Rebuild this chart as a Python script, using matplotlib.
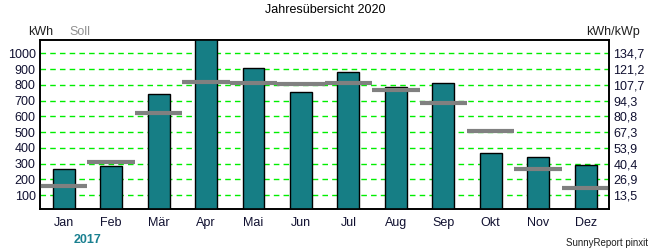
import matplotlib.pyplot as plt

plt.rcParams['font.family'] = ['Liberation Sans', 'DejaVu Sans']

# Monatswerte
monate = ['Jan', 'Feb', 'Mär', 'Apr', 'Mai', 'Jun', 'Jul', 'Aug', 'Sep', 'Okt', 'Nov', 'Dez']
ertrag = [265, 284, 740, 1100, 905, 753, 880, 788, 810, 366, 341, 292]
soll = [157, 309, 620, 816, 810, 803, 810, 765, 683, 506, 265, 144]
ticks_kwh = [100, 200, 300, 400, 500, 600, 700, 800, 900, 1000]
ticks_kwp = ['13,5', '26,9', '40,4', '53,9', '67,3', '80,8', '94,3', '107,7', '121,2', '134,7']

fig = plt.figure(figsize=(6.5, 2.5), dpi=100)
ax = fig.add_axes([0.0615, 0.164, 0.876, 0.676])

x = list(range(len(monate)))
ax.bar(x, ertrag, width=0.46, color='#167e85', edgecolor='black', linewidth=1, zorder=3)
# Soll-Linien
ax.hlines(soll, [i - 0.5 for i in x], [i + 0.5 for i in x], colors='#808080', linewidth=3, zorder=4)

ax.set_xlim(-0.5, 11.5)
ax.set_ylim(12, 1084)
ax.set_yticks(ticks_kwh)
ax.grid(axis='y', color='#00ee00', linestyle=(0, (4, 3)), linewidth=1, zorder=1)
ax.set_xticks(x)
ax.set_xticklabels(monate, fontsize=9, color='#101030')
ax.tick_params(axis='both', length=0, pad=6)
ax.tick_params(axis='y', labelsize=9, labelcolor='#101030', pad=3)

ax2 = ax.twinx()
ax2.set_ylim(ax.get_ylim())
ax2.set_yticks(ticks_kwh)
ax2.set_yticklabels(ticks_kwp, fontsize=9, color='#101030')
ax2.tick_params(axis='y', length=0, pad=3)

for a in (ax, ax2):
    for s in a.spines.values():
        s.set_linewidth(1.2)

fig.text(0.5, 0.96, 'Jahresübersicht 2020', ha='center', va='center', fontsize=9)
fig.text(0.043, 0.872, 'kWh', ha='left', va='center', fontsize=9, color='#202020')
fig.text(0.107, 0.872, 'Soll', ha='left', va='center', fontsize=9, color='#909090')
fig.text(0.985, 0.872, 'kWh/kWp', ha='right', va='center', fontsize=9, color='#202020')
fig.text(0.135, 0.04, '2017', ha='center', va='center', fontsize=9, color='#1a8090', fontweight='bold')
fig.text(0.997, 0.03, 'SunnyReport pinxit', ha='right', va='center', fontsize=7, color='#202020')

fig.savefig('out.png', dpi=100)
